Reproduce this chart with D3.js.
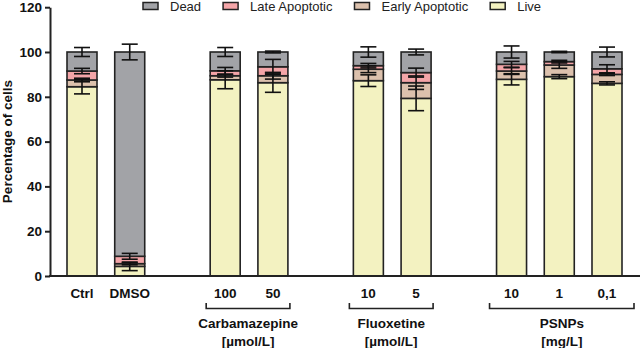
<!DOCTYPE html>
<html>
<head>
<meta charset="utf-8">
<script src="https://cdn.jsdelivr.net/npm/d3@7"></script>
<style>
    body { margin: 0; background: #fff; }
    svg { display: block; font-family: "Liberation Sans", Arial, sans-serif; }
    .tick text, .cat { font-weight: bold; font-size: 13.5px; fill: #111; }
    .grp { font-weight: bold; font-size: 13.5px; fill: #111; }
    .legend text { font-size: 13px; fill: #222; }
</style>
</head>
<body>
<svg width="640" height="348"></svg>
<script>
const width = 640;
const height = 348;
const svg = d3.select("svg");

// bar labels and their slot on the x axis (empty slots make the group gaps)
const categories = ["Ctrl", "DMSO", "100", "50", "10", "5", "10", "1", "0,1"];
const slots = [0, 1, 3, 4, 6, 7, 9, 10, 11];

const live = [84.5, 4.3, 87.6, 86.3, 87.2, 79.3, 87.8, 89.0, 86.0];
const early = [3.0, 1.2, 1.8, 3.1, 5.1, 7.0, 3.7, 5.2, 4.0];
const late = [4.0, 3.3, 2.2, 4.0, 1.6, 4.5, 3.0, 1.5, 2.5];
const dead = [8.5, 91.2, 8.4, 6.6, 6.1, 9.2, 5.5, 4.3, 7.5];

const liveSD = [3.2, 1.9, 4.0, 4.3, 2.6, 5.5, 2.5, 0.9, 0.7];
const earlySD = [0.8, 0.5, 0.6, 1.5, 1.5, 3.0, 1.5, 1.5, 0.5];
const lateSD = [1.2, 1.3, 1.5, 3.3, 1.0, 2.0, 1.3, 0.6, 1.8];
const deadSD = [2.0, 3.5, 2.0, 0.4, 2.3, 1.3, 2.7, 0.3, 2.2];

const yTicks = [0, 20, 40, 60, 80, 100, 120];

const groups = [
    { name: "Carbamazepine", unit: "[\u00b5mol/L]", from: 3, to: 4 },
    { name: "Fluoxetine", unit: "[\u00b5mol/L]", from: 6, to: 7 },
    { name: "PSNPs", unit: "[mg/L]", from: 9, to: 11 }
];

const seriesNames = ["Live", "Early Apoptotic", "Late Apoptotic", "Dead"];
const seriesValues = [live, early, late, dead];
const seriesSD = [liveSD, earlySD, lateSD, deadSD];
const colors = ["#f3f2c1", "#dcc1ad", "#f4a5a8", "#a2a3a7"];

const x = d3.scaleLinear().domain([0, 11]).range([82, 607]);
const y = d3.scaleLinear().domain([0, 120]).range([276, 7.2]);
const barW = 30;
const capW = 16;

// stack the segments
const rows = categories.map((c, i) => {
    const r = { i: i };
    seriesNames.forEach((s, k) => r[s] = seriesValues[k][i]);
    return r;
});
const stacked = d3.stack().keys(seriesNames)(rows);

const barG = svg.append("g");
stacked.forEach((layer, k) => {
    barG.selectAll(null)
        .data(layer)
        .enter()
        .append("rect")
        .attr("x", d => x(slots[d.data.i]) - barW / 2)
        .attr("y", d => y(d[1]))
        .attr("width", barW)
        .attr("height", d => y(d[0]) - y(d[1]))
        .attr("fill", colors[k])
        .attr("stroke", "#222")
        .attr("stroke-width", 1.6);
});

// error bars on top of every segment
const errG = svg.append("g").attr("stroke", "#111").attr("stroke-width", 1.6);
stacked.forEach((layer, k) => {
    layer.forEach(d => {
        const cx = x(slots[d.data.i]);
        const sd = seriesSD[k][d.data.i];
        const hi = y(d[1] + sd), lo = y(d[1] - sd);
        errG.append("line").attr("x1", cx).attr("x2", cx).attr("y1", hi).attr("y2", lo);
        errG.append("line").attr("x1", cx - capW / 2).attr("x2", cx + capW / 2).attr("y1", hi).attr("y2", hi);
        errG.append("line").attr("x1", cx - capW / 2).attr("x2", cx + capW / 2).attr("y1", lo).attr("y2", lo);
    });
});

// axes
const yAxis = svg.append("g")
    .attr("transform", "translate(50,0)")
    .call(d3.axisLeft(y).tickValues(yTicks).tickSize(5).tickSizeOuter(0).tickPadding(3));
yAxis.select(".domain").attr("stroke", "#222").attr("stroke-width", 2);
yAxis.selectAll(".tick line").attr("stroke", "#222").attr("stroke-width", 2);
yAxis.selectAll(".tick text").attr("font-family", null).attr("font-size", null);

svg.append("line")
    .attr("x1", 49).attr("x2", width)
    .attr("y1", y(0)).attr("y2", y(0))
    .attr("stroke", "#222").attr("stroke-width", 2);

svg.append("text")
    .attr("transform", `translate(12,${(y(0) + y(120)) / 2}) rotate(-90)`)
    .attr("text-anchor", "middle")
    .style("font-weight", "bold")
    .style("font-size", "13.5px")
    .attr("fill", "#111")
    .text("Percentage of cells");

// category labels
svg.selectAll(".cat")
    .data(categories)
    .enter()
    .append("text")
    .attr("class", "cat")
    .attr("x", (d, i) => x(slots[i]))
    .attr("y", 297.5)
    .attr("text-anchor", "middle")
    .text(d => d);

// group brackets
const grpG = svg.append("g");
groups.forEach(g => {
    const x1 = x(g.to) + barW / 2 + (g.to - g.from > 1 ? 12 : 2);
    const xl = x(g.from) - barW / 2 - (g.to - g.from > 1 ? 7 : 4);
    grpG.append("path")
        .attr("d", `M${xl},303 V308.5 H${x1} V303`)
        .attr("fill", "none")
        .attr("stroke", "#222")
        .attr("stroke-width", 1.6);
    const mid = (xl + x1) / 2;
    grpG.append("text").attr("class", "grp").attr("x", mid).attr("y", 327.5)
        .attr("text-anchor", "middle").text(g.name);
    grpG.append("text").attr("class", "grp").attr("x", mid).attr("y", 346)
        .attr("text-anchor", "middle").text(g.unit);
});

// legend, Dead first
const legendOrder = [3, 2, 1, 0];
const legend = svg.append("g").attr("class", "legend");
let lx = 143;
legendOrder.forEach(k => {
    legend.append("rect")
        .attr("x", lx).attr("y", 2.5)
        .attr("width", 15).attr("height", 7)
        .attr("fill", colors[k])
        .attr("stroke", "#222")
        .attr("stroke-width", 1.5);
    const t = legend.append("text")
        .attr("x", lx + 27).attr("y", 10.5)
        .text(seriesNames[k]);
    lx += 27 + t.node().getComputedTextLength() + 22;
});
</script>
</body>
</html>
